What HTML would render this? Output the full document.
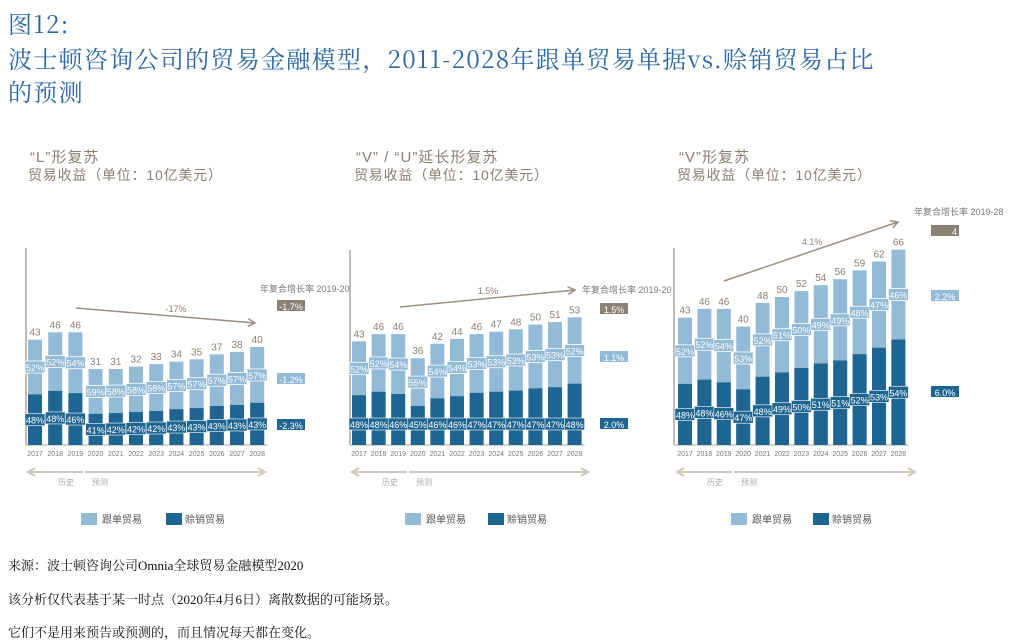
<!DOCTYPE html>
<html><head><meta charset="utf-8"><style>
body{margin:0;background:#fff;width:1014px;height:642px;overflow:hidden;position:relative;font-family:"Liberation Serif","Noto Serif CJK SC",serif}
.t{position:absolute;left:8px;color:#2d68a6;font-size:24px;line-height:33px;white-space:nowrap;font-family:"Noto Serif CJK SC","Liberation Serif",serif;letter-spacing:1.3px}
.f{position:absolute;left:8px;font-size:13px;color:#111;white-space:nowrap;font-family:"Liberation Serif","Noto Serif CJK SC",serif}
svg{position:absolute;left:0;top:0}
svg text{font-family:"Liberation Sans","Noto Sans CJK SC",sans-serif}
</style></head><body>
<div class="t" style="top:6px">图12:</div>
<div class="t" style="top:41px">波士顿咨询公司的贸易金融模型，2011-2028年跟单贸易单据vs.赊销贸易占比<br>的预测</div>
<div class="f" style="top:555px">来源：波士顿咨询公司Omnia全球贸易金融模型2020</div>
<div class="f" style="top:589px">该分析仅代表基于某一时点（2020年4月6日）离散数据的可能场景。</div>
<div class="f" style="top:622px">它们不是用来预告或预测的，而且情况每天都在变化。</div>
<svg id="c" width="1014" height="642"></svg>
<script>
const years=["2017","2018","2019","2020","2021","2022","2023","2024","2025","2026","2027","2028"];
const totalsL=[43,46,46,31,31,32,33,34,35,37,38,40];
const darkL=[48,48,46,41,42,42,42,43,43,43,43,43];
const totalsV=[43,46,46,36,42,44,46,47,48,50,51,53];
const darkV=[48,48,46,45,46,46,47,47,47,47,47,48];
const totalsVV=[43,46,46,40,48,50,52,54,56,59,62,66];
const darkVV=[48,48,46,47,48,49,50,51,51,52,53,54];
const cagrL=["-1.7%","-1.2%","-2.3%"];
const cagrV=["1.5%","1.1%","2.0%"];
const cagrVV=["4","2.2%","6.0%"];
const NS="http://www.w3.org/2000/svg",svg=document.getElementById('c');
const LIGHT="#93bad6",DARK="#1f6591",GRAY="#8a8074",TXT="#8a8074";
function el(t,a,p){const e=document.createElementNS(NS,t);for(const k in a)e.setAttribute(k,a[k]);(p||svg).appendChild(e);return e}
function tx(x,y,s,size,fill,anchor,name){const e=el('text',{x:x,y:y,'font-size':size,fill:fill,'text-anchor':anchor||'start'});e.textContent=s;


return e}
function chart(cfg){
 const g=el('g',{});
 
 
 const base=445,y=v=>base-v*cfg.k,x=i=>cfg.x0+i*cfg.step;
 const tt=tx(cfg.tx,162,cfg.title,15,TXT,'start','chart-title');tt.setAttribute('letter-spacing','1');g.appendChild(tt);
 const st=tx(cfg.tx-2,180,"贸易收益（单位：10亿美元）",14,TXT,'start','chart-subtitle');st.setAttribute('letter-spacing','0.8');g.appendChild(st);
 const ax=el('line',{x1:cfg.ax,y1:cfg.atop,x2:cfg.ax,y2:base,stroke:"#9a9088",'stroke-width':1.2},g);
 
 const bl=el('line',{x1:cfg.ax,y1:base,x2:x(11)+10,y2:base,stroke:"#c8c0b8",'stroke-width':1.5},g);
 
 cfg.tot.forEach((t,i)=>{
  const d=t*cfg.dark[i]/100,cx=x(i),w=14;
  const r1=el('rect',{x:cx-w/2,y:y(t),width:w,height:t*cfg.k,fill:LIGHT},g);
  
  const r2=el('rect',{x:cx-w/2,y:y(d),width:w,height:d*cfg.k,fill:DARK},g);
  
  g.appendChild(tx(cx,y(t)-4,String(t),10,TXT,'middle','bar-total-label'));
  const ly=(y(t)+y(d))/2;
  el('rect',{x:cx-10,y:ly-6,width:20,height:12,fill:LIGHT,stroke:"#fff",'stroke-width':0.8},g);
  g.appendChild(tx(cx,ly+4,(100-cfg.dark[i])+"%",9,"#fff",'middle','documentary-share-label'));
  const dy=cfg.fixDark?cfg.fixDark:(y(d)+base)/2;
  el('rect',{x:cx-10,y:dy-6,width:20,height:12,fill:DARK,stroke:"#fff",'stroke-width':0.6},g);
  g.appendChild(tx(cx,dy+4,cfg.dark[i]+"%",9,"#fff",'middle','open-account-share-label'));
  g.appendChild(tx(cx,456,years[i],7,"#777",'middle','x-tick-label'));
 });
 const a=cfg.arrow;
 const ar=el('line',{x1:a[0],y1:a[1],x2:a[2],y2:a[3],stroke:"#9a8f84",'stroke-width':1.5},g);
 
 const ang=Math.atan2(a[3]-a[1],a[2]-a[0]);
 const hp=(dA)=>[a[2]-8*Math.cos(ang+dA),a[3]-8*Math.sin(ang+dA)];
 const p1=hp(0.5),p2=hp(-0.5);
 el('polyline',{points:`${p1} ${a[2]},${a[3]} ${p2}`,fill:"none",stroke:"#9a8f84",'stroke-width':1.5},g);
 g.appendChild(tx(cfg.alab[0],cfg.alab[1],cfg.cagr[0]==="4"?"4.1%":cfg.cagr[0].replace("-1.7","-17"),9,TXT,'middle','trend-label'));
 g.appendChild(tx(cfg.cx,cfg.cy[0],"年复合增长率 2019-"+(cfg.cagr[0]==="4"?"28":"20"),9,"#777",'start','cagr-title'));
 [GRAY,LIGHT,DARK].forEach((c,j)=>{
  const r=el('rect',{x:cfg.bx,y:cfg.cy[j+1]-6,width:28,height:11,fill:c},g);
  
  g.appendChild(tx(cfg.bx+(cfg.cagr[j]==="4"?26:14),cfg.cy[j+1]+4,cfg.cagr[j],9,"#fff",cfg.cagr[j]==="4"?'end':'middle','cagr-value'));
 });
 const t=cfg.tl;
 el('line',{x1:t[0],y1:472,x2:t[1]-1,y2:472,stroke:"#d0c8bf",'stroke-width':2},g);
 el('line',{x1:t[1]+1,y1:472,x2:t[2],y2:472,stroke:"#d0c8bf",'stroke-width':2},g);
 el('polyline',{points:`${t[0]+7},468 ${t[0]},472 ${t[0]+7},476`,fill:"none",stroke:"#d0c8bf",'stroke-width':2},g);
 el('polyline',{points:`${t[2]-7},468 ${t[2]},472 ${t[2]-7},476`,fill:"none",stroke:"#d0c8bf",'stroke-width':2},g);
 g.appendChild(tx(t[1]-10,485,"历史",8,"#aaa",'end','history-label'));
 g.appendChild(tx(t[1]+8,485,"预测",8,"#aaa",'start','forecast-label'));
 const L=cfg.leg;
 el('rect',{x:L[0],y:513,width:16,height:12,fill:LIGHT},g);
 g.appendChild(tx(L[0]+21,523,"跟单贸易",10,"#555",'start','legend-documentary'));
 el('rect',{x:L[1],y:513,width:16,height:12,fill:DARK},g);
 g.appendChild(tx(L[1]+19,523,"赊销贸易",10,"#555",'start','legend-open-account'));
}
chart({name:'chart-l-shape',title:"“L”形复苏",tx:30,ax:26,atop:248,x0:35,step:20.2,k:2.45,tot:totalsL,dark:darkL,
 arrow:[76,308,255,323],alab:[176,312],cagr:cagrL,cx:260,cy:[292,306,379,425],bx:277,tl:[28,84,265],leg:[81,166]});
chart({name:'chart-v-u-shape',title:"“V” / “U”延长形复苏",tx:356,ax:350,atop:250,x0:359,step:19.6,k:2.41,tot:totalsV,dark:darkV,fixDark:424,
 arrow:[400,307,575,290],alab:[488,294],cagr:cagrV,cx:582,cy:[293,309,357,424],bx:600,tl:[352,408,588],leg:[405,488]});
chart({name:'chart-v-shape',title:"“V”形复苏",tx:679,ax:674,atop:248,x0:685,step:19.4,k:2.96,tot:totalsVV,dark:darkVV,
 arrow:[724,281,898,222],alab:[812,245],cagr:cagrVV,cx:914,cy:[215,231,296,392],bx:931,tl:[677,733,915],leg:[731,813]});
</script>
</body></html>
